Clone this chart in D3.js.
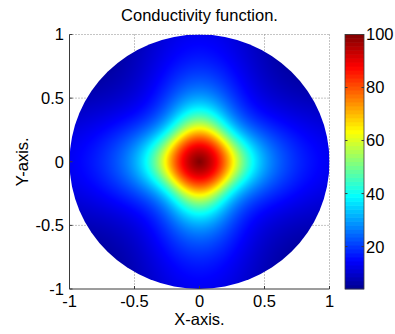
<!DOCTYPE html>
<html><head><meta charset="utf-8">
<script src="https://cdn.jsdelivr.net/npm/d3@7"></script>
<style>
body{margin:0;background:#fff}
svg{display:block}
text{font-family:"Liberation Sans",Arial,sans-serif;fill:#000}
</style>
</head><body>
<svg id="chart" width="395" height="334"></svg>
<script>
// ---- data ----
const titleText = "Conductivity function.";
const xLabelText = "X-axis.";
const yLabelText = "Y-axis.";
const xTicks = [-1, -0.5, 0, 0.5, 1];
const yTicks = [-1, -0.5, 0, 0.5, 1];
const colorbarTicks = [20, 40, 60, 80, 100];
const colorRange = [4, 100];
// radial samples of the conductivity (distance from centre, evenly spaced 0..1)
const profileRadii = [0, 0.1, 0.2, 0.3, 0.4, 0.5, 0.6, 0.7, 0.8, 0.9, 1.0];
// along the x / y axes
const axisProfile = [100, 93, 77, 55, 39.5, 30, 24, 20, 17, 15, 13.5];
// along the diagonals
const diagonalProfile = [100, 93, 76.5, 47, 30, 21, 15.5, 12, 9.5, 7.5, 6];
// MATLAB jet colour map
const jetStops = [0, 0.111, 0.365, 0.619, 0.873, 1];
const jetColors = ["#00008f", "#0000ff", "#00ffff", "#ffff00", "#ff0000", "#800000"];

// ---- layout ----
const plot = {left: 69.5, right: 329.5, top: 34.5, bottom: 289};
const cbar = {left: 345, right: 364, top: 34.5, bottom: 289};
const FS = 16.5;

const svg = d3.select("#chart");
const x = d3.scaleLinear().domain([-1, 1]).range([plot.left, plot.right]);
const y = d3.scaleLinear().domain([-1, 1]).range([plot.bottom, plot.top]);
const jet = d3.scaleLinear().domain(jetStops).range(jetColors).interpolate(d3.interpolateRgb).clamp(true);
const norm = d3.scaleLinear().domain(colorRange).range([0, 1]).clamp(true);
const colorOf = v => jet(norm(v));

const rPos = d3.scaleLinear().domain(d3.extent(profileRadii)).range([0, 1]).clamp(true);
const axisF = d3.interpolateBasis(axisProfile);
const diagF = d3.interpolateBasis(diagonalProfile);

// grid (dotted), behind data
const gridColor = "#8a8a8a";
const g = svg.append("g");
xTicks.filter(t => t > -1).forEach(t => {
  g.append("line").attr("x1", x(t)).attr("x2", x(t)).attr("y1", plot.top).attr("y2", plot.bottom)
    .attr("stroke", gridColor).attr("stroke-width", 1).attr("stroke-dasharray", "1,2");
});
yTicks.filter(t => t > -1).forEach(t => {
  g.append("line").attr("y1", y(t)).attr("y2", y(t)).attr("x1", plot.left).attr("x2", plot.right)
    .attr("stroke", gridColor).attr("stroke-width", 1).attr("stroke-dasharray", "1,2");
});

// surface (rendered on a canvas, one cell per pixel)
const pw = Math.round(plot.right - plot.left), ph = Math.round(plot.bottom - plot.top);
const canvas = document.createElement("canvas");
canvas.width = pw; canvas.height = ph;
const ctx = canvas.getContext("2d");
const img = ctx.createImageData(pw, ph);
for (let j = 0; j < ph; j++) {
  for (let i = 0; i < pw; i++) {
    const xv = x.invert(plot.left + i + 0.5);
    const yv = y.invert(plot.top + j + 0.5);
    const r = Math.hypot(xv, yv);
    const k = (j * pw + i) * 4;
    if (r > 1.02) { img.data[k + 3] = 0; continue; }
    const th = Math.atan2(yv, xv);
    const w = Math.pow(Math.sin(2 * th), 2);
    const t = rPos(r);
    const v = (1 - w) * axisF(t) + w * diagF(t);
    const c = d3.rgb(colorOf(v));
    img.data[k] = c.r; img.data[k + 1] = c.g; img.data[k + 2] = c.b; img.data[k + 3] = 255;
  }
}
ctx.putImageData(img, 0, 0);
svg.append("clipPath").attr("id", "disk").append("ellipse")
  .attr("cx", x(0)).attr("cy", y(0)).attr("rx", (x(1) - x(-1)) / 2).attr("ry", (y(-1) - y(1)) / 2);
svg.append("image").attr("x", plot.left).attr("y", plot.top).attr("width", pw).attr("height", ph)
  .attr("preserveAspectRatio", "none").attr("href", canvas.toDataURL()).attr("clip-path", "url(#disk)");

// axes (left & bottom solid, ticks inward)
const axisColor = "#3a3a3a";
svg.append("line").attr("x1", plot.left).attr("x2", plot.left).attr("y1", plot.top).attr("y2", plot.bottom).attr("stroke", axisColor);
svg.append("line").attr("x1", plot.left).attr("x2", plot.right).attr("y1", plot.bottom).attr("y2", plot.bottom).attr("stroke", axisColor);
xTicks.forEach(t => {
  svg.append("line").attr("x1", x(t)).attr("x2", x(t)).attr("y1", plot.bottom).attr("y2", plot.bottom - 3).attr("stroke", axisColor);
  svg.append("text").attr("x", x(t)).attr("y", 306.5).attr("text-anchor", "middle").attr("font-size", FS).text(t);
});
yTicks.forEach(t => {
  svg.append("line").attr("x1", plot.left).attr("x2", plot.left + 3).attr("y1", y(t)).attr("y2", y(t)).attr("stroke", axisColor);
  svg.append("text").attr("x", 64).attr("y", y(t)).attr("dy", "0.36em").attr("text-anchor", "end").attr("font-size", FS).text(t);
});

// labels
svg.append("text").attr("x", x(0)).attr("y", 20.5).attr("text-anchor", "middle").attr("font-size", FS).text(titleText);
svg.append("text").attr("x", x(0)).attr("y", 324.5).attr("text-anchor", "middle").attr("font-size", FS).text(xLabelText);
svg.append("text").attr("transform", `translate(28,${y(0)}) rotate(-90)`).attr("text-anchor", "middle").attr("font-size", FS).text(yLabelText);

// colour bar
const cy = d3.scaleLinear().domain(colorRange).range([cbar.bottom, cbar.top]);
const nSteps = 64;
const stepVals = d3.range(nSteps).map(i => colorRange[0] + (i + 0.5) * (colorRange[1] - colorRange[0]) / nSteps);
const stepH = (cbar.bottom - cbar.top) / nSteps;
svg.append("g").selectAll("rect").data(stepVals).join("rect")
  .attr("x", cbar.left).attr("width", cbar.right - cbar.left)
  .attr("y", d => cy(d) - stepH / 2 - 0.3).attr("height", stepH + 0.6)
  .attr("fill", d => colorOf(d));
svg.append("rect").attr("x", cbar.left).attr("y", cbar.top).attr("width", cbar.right - cbar.left)
  .attr("height", cbar.bottom - cbar.top).attr("fill", "none").attr("stroke", axisColor).attr("stroke-width", 0.8);
colorbarTicks.forEach(t => {
  svg.append("line").attr("x1", cbar.left).attr("x2", cbar.left + 2.5).attr("y1", cy(t)).attr("y2", cy(t)).attr("stroke", axisColor);
  svg.append("line").attr("x1", cbar.right).attr("x2", cbar.right - 2.5).attr("y1", cy(t)).attr("y2", cy(t)).attr("stroke", axisColor);
  svg.append("text").attr("x", 366).attr("y", cy(t)).attr("dy", "0.36em").attr("font-size", FS).text(t);
});
</script>
</body></html>
